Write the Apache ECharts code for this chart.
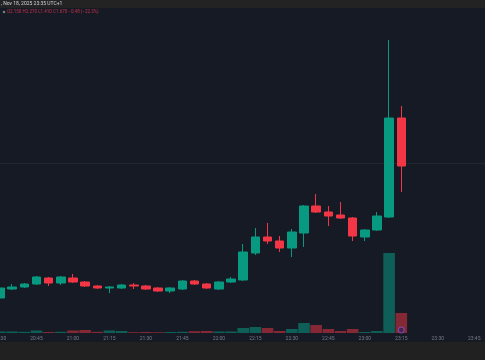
<!DOCTYPE html>
<html>
<head>
<meta charset="utf-8">
<script src="https://cdn.jsdelivr.net/npm/echarts@6/dist/echarts.min.js"></script>
<style>
html,body{margin:0;padding:0;background:#161a25;}
#chart{width:485px;height:360px;}
</style>
</head>
<body>
<div id="chart"></div>
<script>
const categories = ['20:30','20:35','20:40','20:45','20:50','20:55','21:00','21:05','21:10','21:15','21:20','21:25','21:30','21:35','21:40','21:45','21:50','21:55','22:00','22:05','22:10','22:15','22:20','22:25','22:30','22:35','22:40','22:45','22:50','22:55','23:00','23:05','23:10','23:15','23:20','23:25','23:30','23:35','23:40','23:45','23:50'];
const opens  = [0.35,0.44,0.46,0.49,0.55,0.50,0.55,0.51,0.47,0.45,0.45,0.48,0.47,0.45,0.42,0.44,0.52,0.49,0.44,0.51,0.53,0.80,0.96,0.92,0.85,1.00,1.27,1.21,1.18,1.15,0.96,1.03,1.16,2.15];
const closes = [0.45,0.46,0.49,0.56,0.50,0.56,0.51,0.47,0.45,0.46,0.48,0.47,0.44,0.42,0.45,0.52,0.49,0.45,0.51,0.54,0.81,0.96,0.92,0.85,1.01,1.27,1.21,1.17,1.15,0.97,1.03,1.17,2.15,1.67];
const lows   = [0.34,0.43,0.45,0.48,0.47,0.48,0.50,0.46,0.44,0.40,0.44,0.44,0.43,0.41,0.40,0.43,0.48,0.44,0.43,0.50,0.52,0.78,0.89,0.81,0.76,0.86,1.20,1.07,1.14,0.92,0.92,1.02,1.15,1.41];
const highs  = [0.47,0.49,0.50,0.57,0.56,0.57,0.59,0.52,0.48,0.47,0.49,0.50,0.48,0.46,0.46,0.53,0.53,0.50,0.52,0.56,0.89,1.05,1.10,0.97,1.04,1.28,1.39,1.27,1.31,1.16,1.04,1.21,2.93,2.27];
const volumes = [15,15,12,25,10,12,25,30,12,25,20,8,10,8,10,12,18,20,15,15,50,60,50,20,40,100,80,40,20,40,10,20,800,200];
const gridLevels = [1.70];
const markerTime = '23:15';
const markerValue = 30;

const UP = '#089981', DOWN = '#f23645';
const candleData = categories.map((c, i) => i < opens.length ? [opens[i], closes[i], lows[i], highs[i]] : '-');
const volData = categories.map((c, i) => i < volumes.length ? {
  value: volumes[i],
  itemStyle: { color: closes[i] >= opens[i] ? 'rgba(8,153,129,0.55)' : 'rgba(242,54,69,0.5)' }
} : '-');

const chart = echarts.init(document.getElementById('chart'), null, {renderer:'canvas'});
chart.setOption({
  backgroundColor: '#161a25',
  animation: false,
  grid: { left: -6.1, right: -7.5, top: 0, bottom: 27, containLabel: false, outerBoundsMode: 'none' },
  xAxis: {
    type: 'category', data: categories, boundaryGap: true,
    axisLine: { show: false }, axisTick: { show: false },
    axisLabel: { interval: 2, color: '#787b86', fontSize: 5, margin: 3, fontFamily: 'Roboto', hideOverlap: false },
    splitLine: { show: false }
  },
  yAxis: [
    { type: 'value', min: 0, max: 3.33, show: false, splitLine: { show: false } },
    { type: 'value', min: 0, max: 3330, show: false, splitLine: { show: false } }
  ],
  graphic: [
    { type: 'rect', left: 0, top: 0, shape: { width: 485, height: 8 }, style: { fill: '#232323' }, z: 100 },
    { type: 'rect', left: 0, top: 342, shape: { width: 485, height: 18 }, style: { fill: '#212121' }, z: 100 },
    { type: 'text', left: 1, top: 1, style: { text: ', Nov 18, 2025 23:35 UTC+1', fill: '#d1d4dc', font: '5px Roboto' }, z: 101 },
    { type: 'circle', shape: { cx: 4, cy: 12, r: 1.3 }, style: { fill: '#787b86' }, z: 101 },
    { type: 'text', left: 7, top: 9.5, style: { text: 'O2.150 H2.270 L1.410 C1.670 −0.48 (−22.3%)', fill: '#c2334a', font: '4.5px Roboto' }, z: 101 }
  ],
  series: [
    {
      type: 'bar', yAxisIndex: 1, data: volData, barWidth: 11.6, z: 1
    },
    {
      type: 'candlestick', yAxisIndex: 0, data: candleData, barWidth: 9, z: 3,
      itemStyle: { color: UP, color0: DOWN, borderColor: UP, borderColor0: DOWN, borderWidth: 1 }
    },
    {
      type: 'line', yAxisIndex: 0, data: [], z: 0, silent: true,
      markLine: {
        silent: true, symbol: 'none', label: { show: false }, z: 0,
        lineStyle: { color: '#222633', width: 1, type: 'solid' },
        data: gridLevels.map(v => ({ yAxis: v }))
      }
    },
    {
      type: 'scatter', yAxisIndex: 1, data: [[markerTime, markerValue]], symbol: 'circle', symbolSize: 6, z: 5,
      itemStyle: { color: '#3b2358', borderColor: '#8e5cc9', borderWidth: 1 }
    }
  ]
});
</script>
</body>
</html>
